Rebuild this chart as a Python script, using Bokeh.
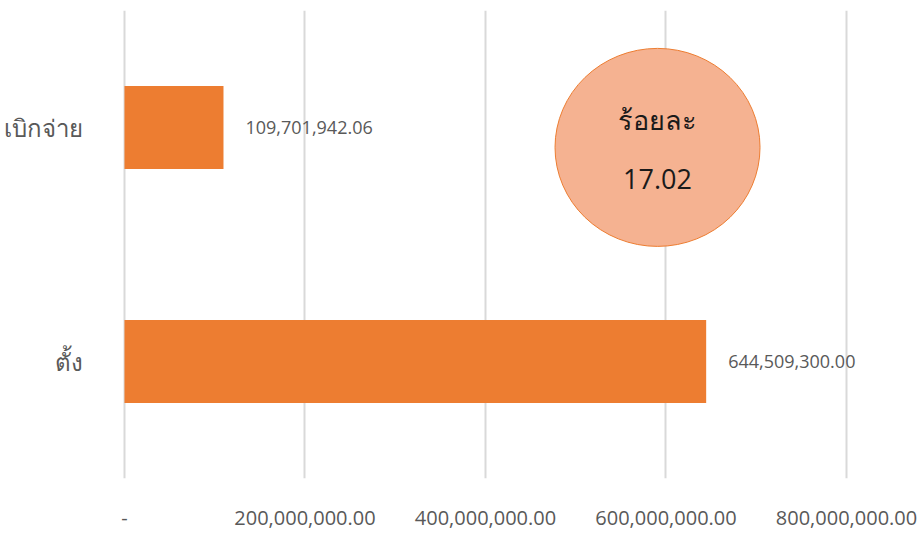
from bokeh.plotting import figure
from bokeh.models import Range1d, FactorRange, FixedTicker, NumeralTickFormatter, ColumnDataSource
from bokeh.core.properties import value
from bokeh.embed import file_html
from bokeh.resources import INLINE

# ---- data ----
categories = ["เบิกจ่าย", "ตั้ง"]
amounts = [109701942.06, 644509300.00]
amount_labels = ["109,701,942.06", "644,509,300.00"]
x_ticks = [0, 200000000, 400000000, 600000000, 800000000]
percent_title = "ร้อยละ"
percent_value = "17.02"

FONT = "Open Sans"
GRAY = "#595959"
ORANGE = "#ED7D31"

src = ColumnDataSource(dict(cat=categories, amt=amounts, lbl=amount_labels))

p = figure(width=922, height=533, output_backend="svg", toolbar_location=None,
           x_range=Range1d(-3300000, 884200000),
           y_range=FactorRange(factors=categories[::-1], range_padding=0),
           min_border_left=121, min_border_right=0, min_border_top=10, min_border_bottom=55)
p.outline_line_color = None
p.background_fill_color = "white"
p.border_fill_color = "white"

p.hbar(y="cat", right="amt", left=0, height=0.355, source=src,
       fill_color=ORANGE, line_color=None)

p.text(x="amt", y="cat", text="lbl", source=src, x_offset=22,
       text_align="left", text_baseline="middle",
       text_font=value(FONT), text_font_size="18px", text_color=GRAY)

# percentage bubble
p.ellipse(x=[590600000], y=[(categories[0], -0.085)], width=205, height=198,
          width_units="screen", height_units="screen",
          fill_color="#F5B291", line_color=ORANGE, line_width=1)
p.text(x=[590600000], y=[(categories[0], 0.035)], text=[percent_title],
       text_align="center", text_baseline="middle",
       text_font=value("Noto Sans"), text_font_size="27px", text_color="#1a1a1a")
p.text(x=[590600000], y=[(categories[0], -0.218)], text=[percent_value],
       text_align="center", text_baseline="middle",
       text_font=value(FONT), text_font_size="27px", text_color="#1a1a1a")

# x axis
xa = p.xaxis[0]
xa.ticker = FixedTicker(ticks=x_ticks)
xa.formatter = NumeralTickFormatter(format="0,0.00")
xa.major_label_overrides = {0: "-"}
xa.axis_line_color = None
xa.major_tick_line_color = None
xa.minor_tick_line_color = None
xa.major_label_standoff = 26
xa.major_label_text_font = FONT
xa.major_label_text_font_size = "20px"
xa.major_label_text_color = GRAY

ya = p.yaxis[0]
ya.axis_line_color = None
ya.major_tick_line_color = None
ya.minor_tick_line_color = None
ya.major_label_standoff = 33
ya.major_label_text_font = "Noto Sans"
ya.major_label_text_font_size = "24px"
ya.major_label_text_color = GRAY

p.xgrid.grid_line_color = "#D9D9D9"
p.xgrid.grid_line_width = 2
p.ygrid.grid_line_color = None

open("out.html", "w").write(file_html(p, INLINE))
